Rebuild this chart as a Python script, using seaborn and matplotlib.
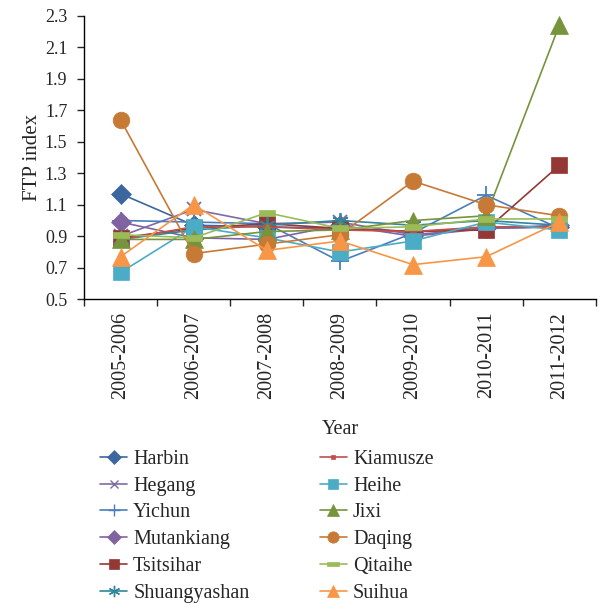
import numpy as np
import matplotlib
matplotlib.use("Agg")
import matplotlib.pyplot as plt
import seaborn as sns

sns.set_style("ticks")
plt.rcParams['font.family'] = ['Liberation Serif', 'DejaVu Serif']

years = ["2005-2006", "2006-2007", "2007-2008", "2008-2009",
         "2009-2010", "2010-2011", "2011-2012"]

harbin = [1.17, 0.97, 0.96, 0.95, 0.93, 0.95, 0.96]
hegang = [0.90, 1.07, 0.98, 0.99, 0.91, 0.95, 0.96]
yichun = [1.00, 0.99, 0.98, 0.74, 0.92, 1.16, 0.95]
mutankiang = [0.99, 0.89, 0.88, 0.97, 0.90, 0.95, 0.97]
tsitsihar = [0.89, 0.95, 0.98, 0.95, 0.93, 0.94, 1.35]
shuangyashan = [0.88, 0.94, 0.97, 1.00, 0.97, 1.00, 0.97]
kiamusze = [0.88, 0.96, 0.96, 0.94, 0.93, 0.96, 0.96]
heihe = [0.67, 0.96, 0.89, 0.80, 0.87, 0.99, 0.94]
jixi = [0.88, 0.88, 0.93, 0.94, 1.00, 1.03, 2.24]
daqing = [1.64, 0.79, 0.85, 0.91, 1.25, 1.10, 1.03]
qitaihe = [0.91, 0.89, 1.05, 0.95, 0.96, 1.01, 1.01]
suihua = [0.77, 1.10, 0.81, 0.87, 0.72, 0.77, 0.99]

# horizontal dash marker like the excel one
dash = [(-1, -0.38), (1, -0.38), (1, 0.38), (-1, 0.38), (-1, -0.38)]
asterisk = (6, 2, 0)

# name, values, color, marker, size
series = [
    ("Harbin", harbin, "#3B679E", "D", 10),
    ("Hegang", hegang, "#7F6AA6", "x", 9.5),
    ("Yichun", yichun, "#4A7EBB", "+", 13),
    ("Mutankiang", mutankiang, "#8064A2", "D", 10),
    ("Tsitsihar", tsitsihar, "#953735", "s", 11.5),
    ("Shuangyashan", shuangyashan, "#31859C", asterisk, 12),
    ("Kiamusze", kiamusze, "#C0504D", "s", 4.5),
    ("Heihe", heihe, "#4BACC6", "s", 11.5),
    ("Jixi", jixi, "#77933C", "^", 12.5),
    ("Daqing", daqing, "#C77A36", "o", 12),
    ("Qitaihe", qitaihe, "#9BBB59", dash, 12),
    ("Suihua", suihua, "#F79646", "^", 12.5),
]

fig = plt.figure(figsize=(6.13, 6.07), dpi=100)
ax = fig.add_axes([0.137, 0.507, 0.835, 0.467])

xs = np.arange(len(years))
handles = []
for name, vals, col, mk, ms in series:
    sns.lineplot(x=xs, y=vals, color=col, marker=mk, markersize=ms,
                 markeredgecolor=col, markerfacecolor=col,
                 markeredgewidth=1.3 if mk in ("x", "+", asterisk) else 0.5,
                 linewidth=1.2, ax=ax, legend=False)
    h, = ax.plot([], [], color=col, marker=mk, linewidth=1.2,
                 markersize=ms * 0.68, markeredgecolor=col,
                 markerfacecolor=col,
                 markeredgewidth=1.0 if mk in ("x", "+", asterisk) else 0.5)
    handles.append((h, name))

ax.set_xlim(-0.5, len(years) - 0.5)
ax.set_ylim(0.5, 2.3)
ax.set_yticks(np.arange(0.5, 2.31, 0.2))
ax.set_yticklabels([f"{v:.1f}" for v in np.arange(0.5, 2.31, 0.2)])
ax.set_xticks(xs)
ax.set_xticklabels(years, rotation=90)
ax.set_xticks(np.arange(-0.5, len(years)), minor=True)
ax.tick_params(axis="x", which="major", length=0, pad=9, labelsize=14.5)
ax.tick_params(axis="x", which="minor", length=5, width=1, direction="out")
ax.tick_params(axis="y", length=5, width=1, direction="out", labelsize=13,
               pad=7)
for s in ["top", "right"]:
    ax.spines[s].set_visible(False)
for s in ["left", "bottom"]:
    ax.spines[s].set_color("black")
    ax.spines[s].set_linewidth(1)
ax.set_ylabel("FTP index", fontsize=15, labelpad=2)
ax.set_xlabel("Year", fontsize=14.5, labelpad=15)

fig.legend([h for h, n in handles], [n for h, n in handles],
           loc="upper left", bbox_to_anchor=(0.163, 0.259), ncol=2,
           frameon=False, fontsize=14.5, handlelength=1.35,
           handletextpad=0.3, labelspacing=0.38, columnspacing=3.5,
           borderpad=0, borderaxespad=0)

fig.savefig("out.png", dpi=100)
